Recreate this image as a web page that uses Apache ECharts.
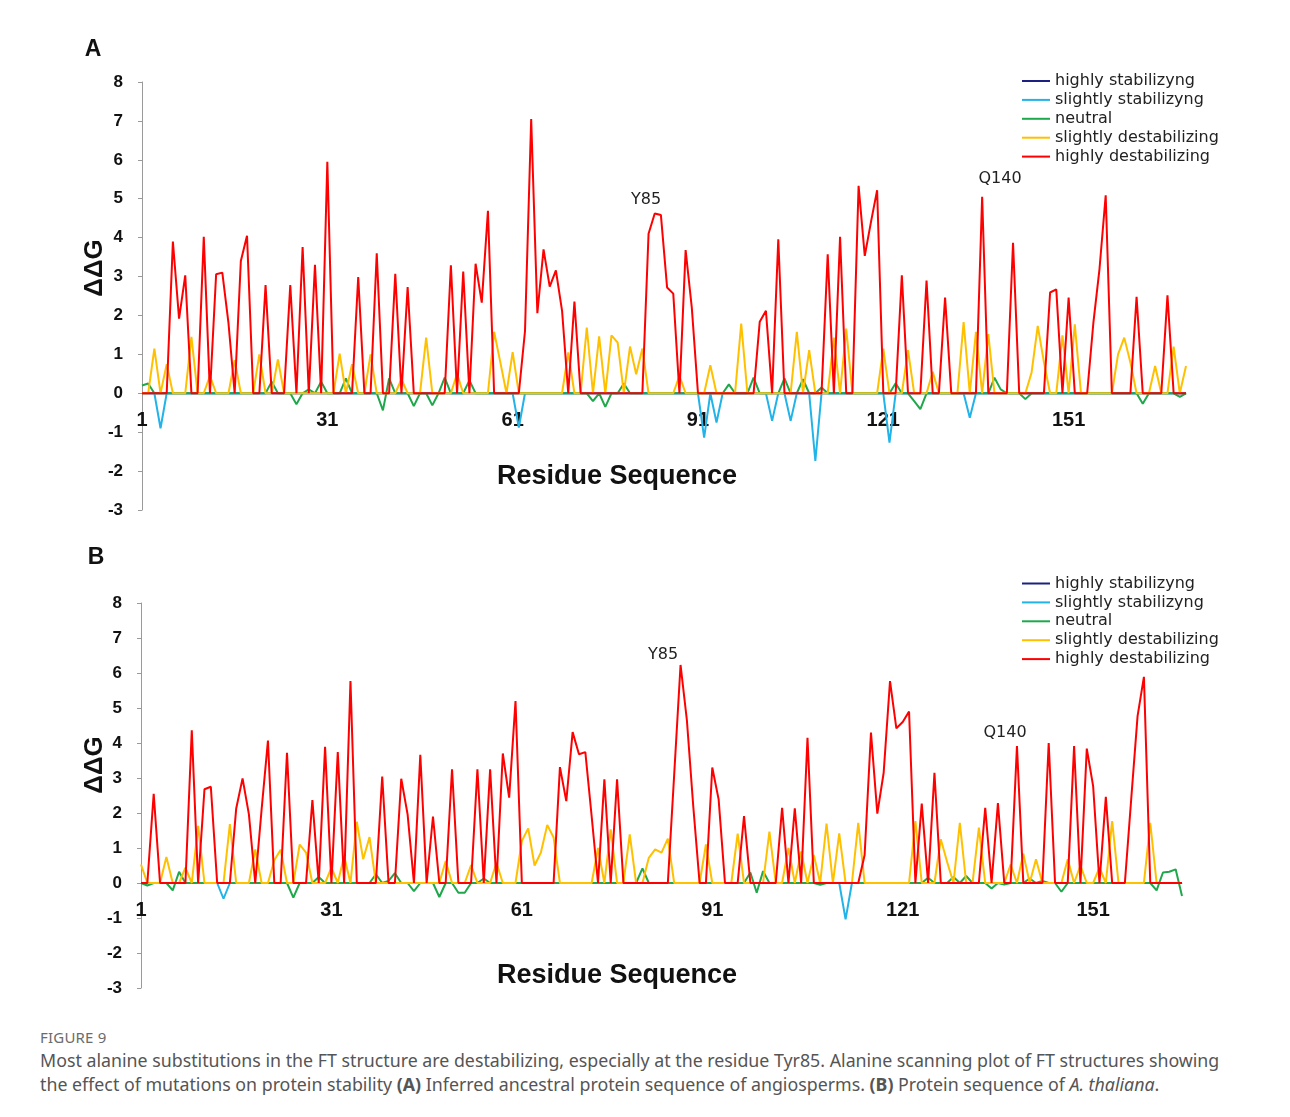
<!DOCTYPE html>
<html>
<head>
<meta charset="utf-8">
<script src="https://cdn.jsdelivr.net/npm/echarts@6.0.0/dist/echarts.min.js"></script>
<style>
html,body{margin:0;padding:0;background:#fff;}
#wrap{position:relative;width:1290px;height:1117px;overflow:hidden;}
#chart{position:absolute;left:0;top:0;width:1290px;height:1015px;}
#topline{position:absolute;left:0;top:8px;width:1290px;height:1px;background:#d6d6d6;}
#fig{position:absolute;left:40px;top:1027px;font-family:"Noto Sans",sans-serif;font-size:15px;letter-spacing:0.2px;color:#6b6b6b;}
#cap{position:absolute;left:40px;top:1048px;width:1245px;font-family:"Noto Sans",sans-serif;font-size:17.8px;line-height:24px;color:#555;white-space:nowrap;}
</style>
</head>
<body>
<div id="wrap">
<div id="topline"></div>
<div id="chart"></div>
<div id="fig">FIGURE 9</div>
<div id="cap">Most alanine substitutions in the FT structure are destabilizing, especially at the residue Tyr85. Alanine scanning plot of FT structures showing<br>the effect of mutations on protein stability <b>(A)</b> Inferred ancestral protein sequence of angiosperms. <b>(B)</b> Protein sequence of <i>A. thaliana</i>.</div>
</div>
<script>
// ---------- DATA ----------
const seriesNames = ['highly stabilizyng','slightly stabilizyng','neutral','slightly destabilizing','highly destabilizing'];
const classCodes  = ['T','S','N','D','H'];   // class code of each series, same order as seriesNames
const yTicks = [-3,-2,-1,0,1,2,3,4,5,6,7,8];

// Panel A: ΔΔG per residue (1..170) and class of each residue
const ddgA = [
 0.2,0.25,1.15,-0.9,0.75,3.9,1.92,3.03,1.45,0,
 4.02,0.45,3.06,3.1,1.8,0.85,3.4,4.05,0,1.0,
 2.78,0.3,0.87,0,2.78,-0.28,3.76,0.1,3.3,0.3,
 5.95,0,1.02,0.38,0.75,2.99,0,1.0,3.6,-0.44,
 0.38,3.07,0.36,2.73,-0.33,0,1.43,-0.31,0,0.4,
 3.29,0.5,3.13,0.33,3.33,2.33,4.69,1.58,0.8,0,
 1.06,-0.88,1.6,7.05,2.06,3.7,2.74,3.16,2.12,1.05,
 2.36,0,1.69,-0.2,1.46,-0.35,1.49,1.3,0.25,1.2,
 0.49,1.15,4.1,4.62,4.58,2.72,2.56,0.45,3.68,2.2,
 0,-1.14,0.72,-0.75,0,0.23,0,1.79,0,0.4,
 1.84,2.12,-0.71,3.96,0.38,-0.71,1.58,0.36,1.11,-1.74,
 0.15,3.57,1.43,4.02,1.66,0,5.33,3.53,4.4,5.22,
 1.15,-1.27,0.26,3.03,1.11,-0.2,-0.41,2.9,0.55,0,
 2.46,0,0,1.83,-0.63,1.58,5.05,1.52,0.4,0.1,
 0,3.87,0,-0.15,0.53,1.73,0.8,2.59,2.67,1.49,
 2.46,1.77,0,0,1.8,3.2,5.09,0,1.0,1.43,
 0.79,2.48,-0.27,0,0.7,0,2.52,1.2,-0.09,0.7
];
const classA = [
 'NNDSDHHHD-','HDHHHDHH-D','HND-HNHNHN',
 'H-DNDH-DHN','NHDHN-DN-N','HDHNHHHDD-',
 'DSHHHHHHHD','H-DNDNDDND','DDHHHHHDHH',
 '-SDS-N-D-N','HHSHNSDNDS','NHDHD-HHHH',
 'DSNHDNNHD-','H--DSDHDNN','-H-NDDDHHD',
 'HD--HHH-DD','DHN-D-HDND'
].join('');

// Panel B: ΔΔG per residue (1..165) and class of each residue
const ddgB = [
 0.53,-0.07,2.55,0,0.74,-0.21,0.32,0.44,4.36,1.63,
 2.68,2.75,0,-0.45,1.68,2.13,2.99,1.96,0.96,2.1,
 4.07,0.65,0.95,3.72,-0.42,1.1,0.87,2.37,0.17,3.89,
 0.44,3.74,0.77,5.77,1.75,0.68,1.31,0.25,3.04,0.06,
 0.28,2.98,1.96,-0.23,3.66,0,1.9,-0.4,0.63,3.25,
 -0.28,-0.28,0.51,3.25,0.13,3.25,0.58,3.7,2.44,5.2,
 1.2,1.56,0.5,0.87,1.66,1.3,3.31,2.34,4.31,3.68,
 3.74,1.9,1.0,2.96,1.53,2.96,0,1.39,0,0.42,
 0.72,0.96,0.87,1.27,3.1,6.23,4.65,2.2,0,1.1,
 3.3,2.39,0,0,1.41,1.91,0.3,-0.28,0.34,1.47,
 0,2.15,1.0,2.13,0.9,4.15,0.8,-0.05,1.7,0,
 1.42,-1.04,0,1.72,0.8,4.3,1.98,3.15,5.77,4.42,
 4.6,4.9,1.77,2.27,0.15,3.15,1.25,0.6,0.17,1.72,
 0.2,0,1.58,2.15,-0.16,2.28,-0.04,0.53,3.91,0.84,
 0.13,0.68,0.06,4.0,0,-0.25,0.68,3.91,0.5,3.84,
 2.77,0.44,2.46,1.77,0,0,2.4,4.77,5.89,1.72,
 -0.21,0.3,0.32,0.39,-0.37
];
const classB = [
 'DNH-DNNDHD','HH-SDHHHDH','HDDHNDDHNH',
 'DHDHDDDNHN','NHHNH-HNDH','NNDHNHDHHH',
 'DDDDDDHHHH','HHDHDH-D-N','DDDDHHHH-D',
 'HH--DHNNND','-HDHDHDNDD','DSDDHHHHHH',
 'HHDHNHDDND','N-DHNHNDHD','NDNH-NDHDH',
 'HDHD--HHHD','NNNNN'
].join('');

const residuesA = ddgA.map((v, i) => String(i + 1));
const residuesB = ddgB.map((v, i) => String(i + 1));

// ---------- STYLE ----------
const seriesColors = ['#1c2181','#22b3e8','#1ea84b','#ffc000','#ff0000'];
const tickFont = 'Liberation Sans, Arial, sans-serif';
const legendFont = 'DejaVu Sans, Verdana, sans-serif';

function buildSeries(vals, cls, idx) {
  return seriesNames.map((name, k) => ({
    type: 'line',
    name: name,
    xAxisIndex: idx,
    yAxisIndex: idx,
    data: vals.map((v, i) => (cls[i] === classCodes[k] ? v : 0)),
    symbol: 'none',
    showSymbol: false,
    smooth: false,
    lineStyle: { color: seriesColors[k], width: 2 },
    itemStyle: { color: seriesColors[k] },
    emphasis: { disabled: true },
    animation: false,
    z: 2 + k
  }));
}

// x axis drawn at the y = 0 line (offset up from the grid bottom)
function xAxisCfg(idx, cats, offsetUp) {
  return {
    gridIndex: idx, type: 'category', data: cats, boundaryGap: false,
    position: 'bottom', offset: -offsetUp,
    axisLine: { onZero: false, lineStyle: { color: '#b0b0b0', width: 1 } },
    axisTick: { show: false },
    splitLine: { show: false },
    axisLabel: { interval: 29, fontFamily: tickFont, fontWeight: 'bold', fontSize: 20, color: '#111', margin: 17 }
  };
}
function yAxisCfg(idx) {
  return {
    gridIndex: idx, type: 'value', min: yTicks[0], max: yTicks[yTicks.length - 1], interval: 1,
    axisLine: { show: true, lineStyle: { color: '#9a9a9a', width: 1 } },
    axisTick: { show: true, inside: false, length: 4, lineStyle: { color: '#9a9a9a' } },
    splitLine: { show: false },
    axisLabel: { fontFamily: tickFont, fontWeight: 'bold', fontSize: 17, color: '#111', margin: 19 }
  };
}
function legendCfg(top) {
  return {
    orient: 'vertical', left: 1022, top: top, padding: 0,
    icon: 'rect', itemWidth: 28, itemHeight: 2, itemGap: 1.9,
    selectedMode: false,
    textStyle: { fontFamily: legendFont, fontSize: 16, color: '#222', lineHeight: 17 },
    data: seriesNames
  };
}
function txt(x, y, s, font, extra) {
  return { type: 'text', x: x, y: y, style: Object.assign({ text: s, font: font, fill: '#111', textAlign: 'center', textVerticalAlign: 'middle' }, extra || {}) };
}

const gridA = { left: 142, top: 82, width: 1044, height: 428 };
const gridB = { left: 141, top: 603, width: 1041, height: 385 };
// distance from the grid bottom (y = -3) up to the y = 0 line
const zeroUpA = gridA.height * 3 / 11;
const zeroUpB = gridB.height * 3 / 11;

const chart = echarts.init(document.getElementById('chart'), null, { renderer: 'canvas' });
chart.setOption({
  animation: false,
  backgroundColor: '#fff',
  grid: [gridA, gridB],
  xAxis: [xAxisCfg(0, residuesA, zeroUpA), xAxisCfg(1, residuesB, zeroUpB)],
  yAxis: [yAxisCfg(0), yAxisCfg(1)],
  legend: [legendCfg(72.5), legendCfg(575)],
  series: buildSeries(ddgA, classA, 0).concat(buildSeries(ddgB, classB, 1)),
  graphic: [
    txt(93, 50, 'A', 'bold 23px ' + tickFont),
    txt(96, 558, 'B', 'bold 23px ' + tickFont),
    txt(617, 477, 'Residue Sequence', 'bold 27px ' + tickFont),
    txt(617, 976, 'Residue Sequence', 'bold 27px ' + tickFont),
    { type: 'text', x: 95, y: 268, rotation: Math.PI / 2, style: { text: 'ΔΔG', font: 'bold 26px ' + tickFont, fill: '#111', textAlign: 'center', textVerticalAlign: 'middle' } },
    { type: 'text', x: 95, y: 765, rotation: Math.PI / 2, style: { text: 'ΔΔG', font: 'bold 26px ' + tickFont, fill: '#111', textAlign: 'center', textVerticalAlign: 'middle' } },
    txt(646, 200, 'Y85', '16px ' + legendFont, { fill: '#222' }),
    txt(1000, 179, 'Q140', '16px ' + legendFont, { fill: '#222' }),
    txt(663, 655, 'Y85', '16px ' + legendFont, { fill: '#222' }),
    txt(1005, 733, 'Q140', '16px ' + legendFont, { fill: '#222' })
  ]
});
</script>
</body>
</html>
